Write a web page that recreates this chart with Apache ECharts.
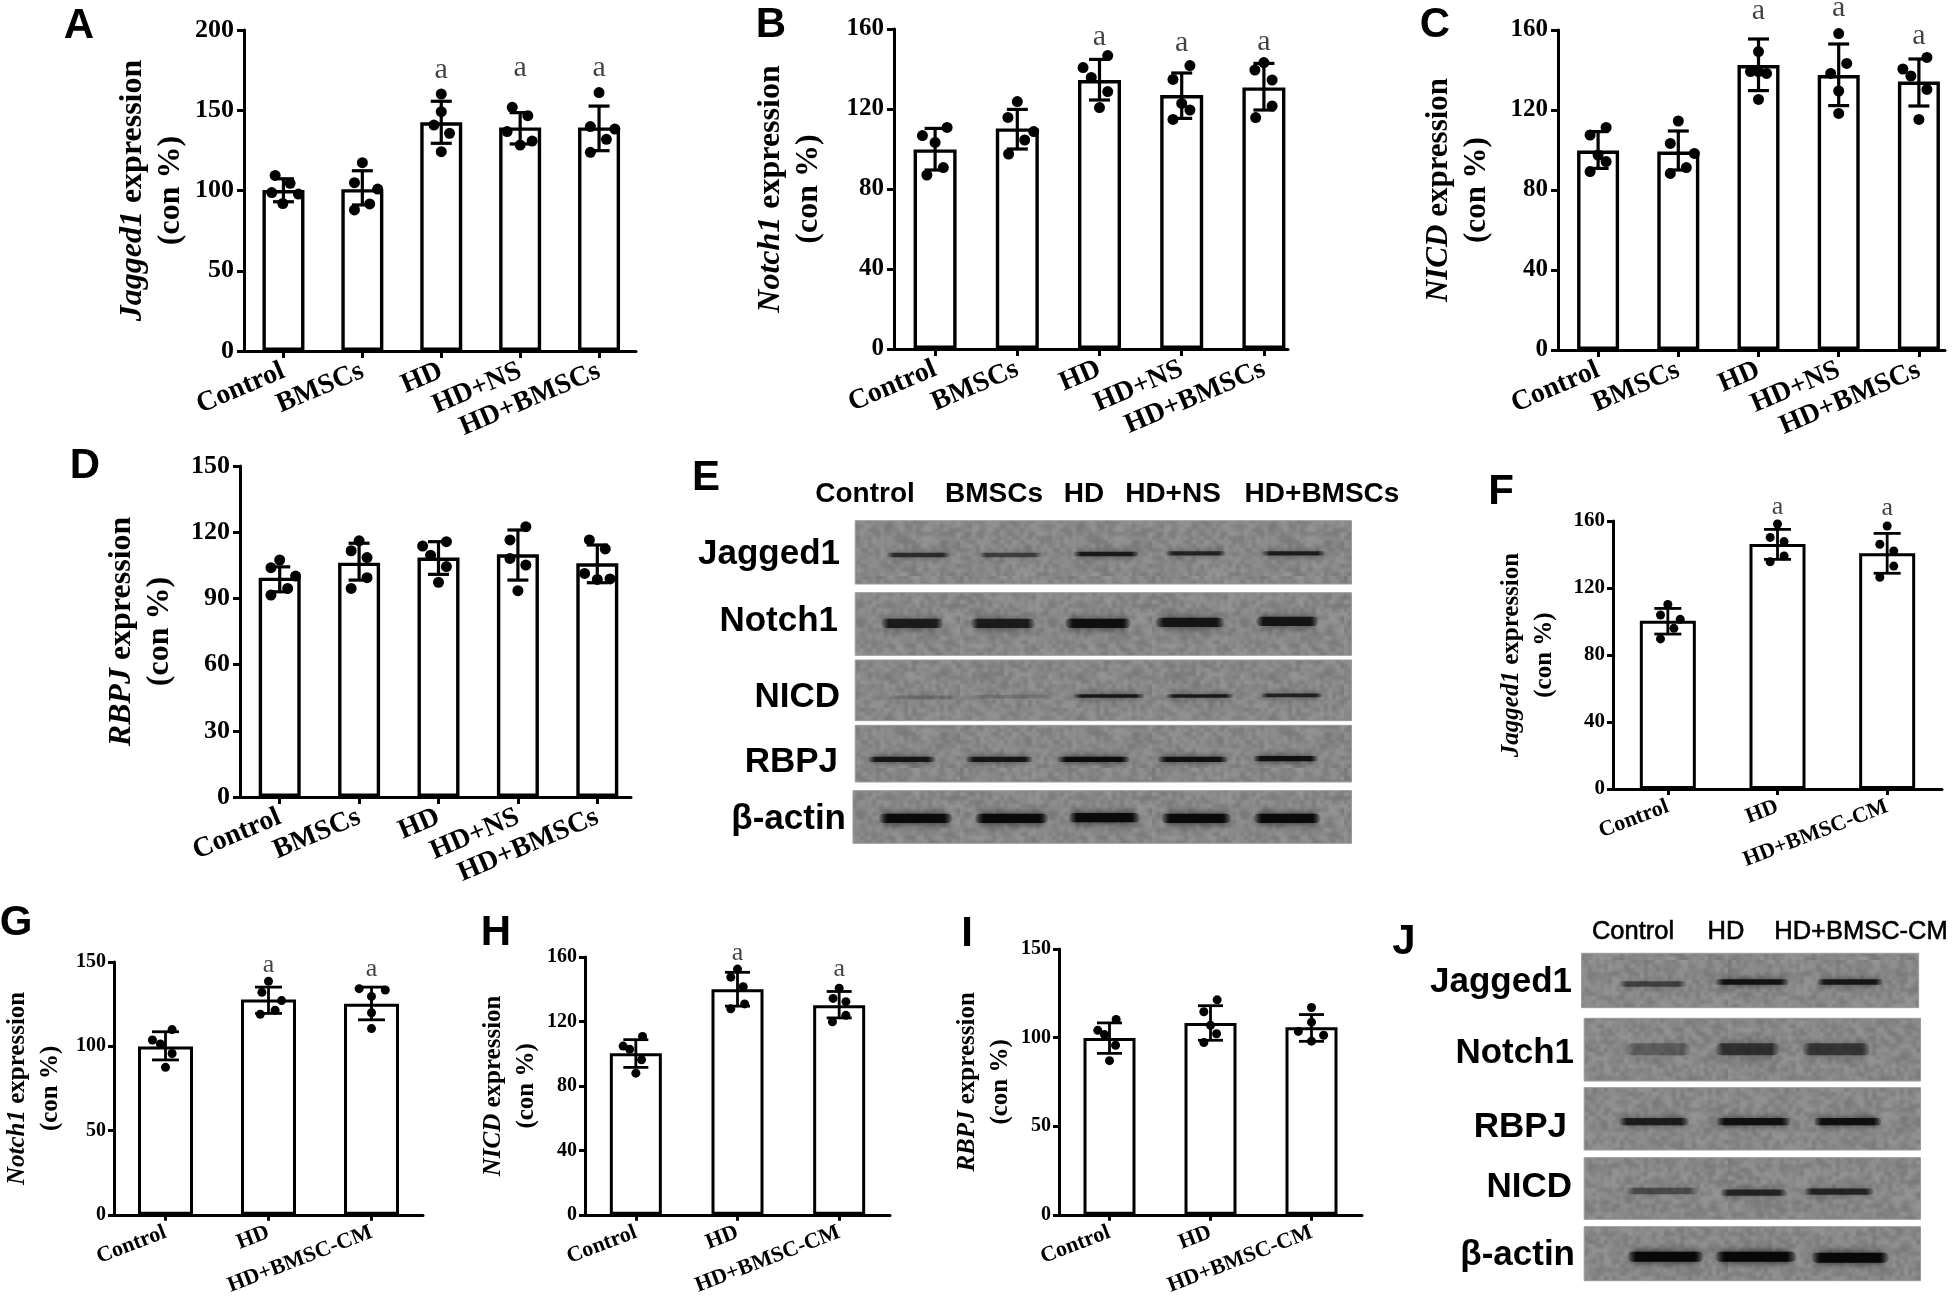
<!DOCTYPE html>
<html><head><meta charset="utf-8">
<style>html,body{margin:0;padding:0;background:#fff}#c{width:1960px;height:1298px;filter:blur(0.7px)}</style>
<script src="https://cdn.jsdelivr.net/npm/echarts@6/dist/echarts.min.js"></script>
</head><body><div id="c"></div>
<script>
const catsFive=['Control','BMSCs','HD','HD+NS','HD+BMSCs'];
const catsThree=['Control','HD','HD+BMSC-CM'];

const meansA=[100.3,100.8,142.5,139.3,139.3];
const upperA=[107.3,112.3,155.6,148.5,152.6];
const lowerA=[93,91,129.4,129,124.8];
const signifA=[null,null,175,176,176];
const dotsA=[[[-.105,109.4],[.084,104.5],[.19,97.8],[-.148,98.7],[-.008,91.9]],[[0,117.3],[-.1,104.9],[.194,100.9],[.093,91.6],[-.1,87.9]],[[0,160.1],[0,149.1],[-.093,140.8],[.105,135.6],[0,124.2]],[[-.1,151.8],[.097,146.6],[-.165,136.7],[.152,130.8],[0,128.3]],[[0,161],[-.11,139.8],[.2,138.3],[.093,131.9],[-.11,123.8]]];

const meansB=[99.8,110.3,134.5,127,130.8];
const upperB=[110.3,119.8,144.8,138,142.8];
const lowerB=[89.5,100,124.5,115.3,119.5];
const signifB=[null,null,156,153,153.5];
const dotsB=[[[.146,110.8],[-.154,106.7],[0,103.3],[.1,90.7],[-.1,87]],[[0,123.7],[-.114,115.8],[.2,108.7],[.09,104.5],[-.106,97.5]],[[.1,146.7],[-.2,140.7],[-.1,135.8],[.1,128.7],[0,120.7]],[[.1,141.7],[-.106,134.8],[0,122.8],[.1,119.5],[-.106,114.8]],[[0,143.2],[-.11,139.5],[.1,134.5],[.1,121.5],[-.1,115.7]]];

const meansC=[99.7,99.2,142.5,137.5,134.2];
const upperC=[109.2,109.5,155.5,153,145.5];
const lowerC=[90.8,90,129.7,122.2,122];
const signifC=[null,null,169.5,171,157];
const dotsC=[[[.1,111.3],[-.1,107.5],[0,97.5],[.1,94.2],[-.1,89.2]],[[0,114.5],[-.1,103.3],[.2,98.3],[.1,91.2],[-.1,88.3]],[[0,149.2],[-.1,139.2],[0,139.2],[.1,138.3],[0,125.3]],[[0,158.2],[.1,143.3],[-.1,138.3],[0,129.5],[0,118.3]],[[.1,146.3],[-.2,140.5],[-.1,137],[.1,130.3],[0,115.3]]];

const meansD=[99.4,106.2,108.5,110,105.9];
const upperD=[104.3,115,115.7,121,114.2];
const lowerD=[93,98.3,100.9,98.3,97.1];
const dotsD=[[[0,107.4],[-.11,103.9],[.2,100.1],[.1,94.5],[-.11,91.5]],[[0,116.1],[-.1,111.6],[.1,108.5],[.1,99.4],[-.1,94.5]],[[.1,115.7],[-.2,113.7],[-.1,109.6],[.1,104.4],[0,97.3]],[[.1,122.5],[-.1,116.5],[-.1,108.1],[.1,105.1],[0,93.5]],[[-.1,116.5],[.1,112.4],[-.16,101.3],[.16,98.8],[0,98.6]]];

const meansF=[100.5,146.3,140.7];
const upperF=[107.8,155,152.6];
const lowerF=[92.5,137.1,128.8];
const signifF=[null,168.4,167.8];
const dotsF=[[[0,110.2],[-.067,103.9],[.113,101.3],[.055,95.9],[-.067,89.6]],[[0,158.2],[-.067,150.2],[.06,147.7],[.06,139.1],[-.067,135.7]],[[0,157],[-.067,146.1],[.06,142.1],[.06,133.1],[-.067,126.4]]];

const meansG=[99.9,127.7,125.2];
const upperG=[108.6,135.1,135.1];
const lowerG=[91.9,119.5,115.7];
const signifG=[null,148,146];
const dotsG=[[[.064,109.9],[-.127,103.7],[-.05,101.4],[.064,95.7],[0,87.5]],[[0,138.6],[-.064,132],[.127,127.1],[.064,121.4],[-.08,119]],[[-.12,134.2],[.134,133.4],[0,129.6],[0,119.9],[0,110.5]]];

const meansH=[100.2,140,130];
const upperH=[108.7,150.5,138.6];
const lowerH=[91.5,129.5,122.2];
const signifH=[null,162.6,152.5];
const dotsH=[[[.066,110.7],[-.125,104.7],[-.06,102.7],[.056,96.2],[0,87.9]],[[0,152.5],[-.066,147.5],[.056,141.6],[.07,130.9],[-.066,127.9]],[[0,140.6],[-.06,134.3],[.066,132.3],[.066,123.8],[-.066,119.8]]];

const meansI=[99.8,108.3,105.9];
const upperI=[108.3,118,113];
const lowerI=[91.1,98.5,97.9];
const dotsI=[[[.066,110.2],[-.116,104.1],[-.05,101.7],[.06,95.7],[0,87]],[[.066,121.3],[-.066,114.6],[0,106.9],[.06,102.2],[-.066,97.2]],[[0,117],[0,108.7],[-.13,103.5],[.12,101.3],[0,98]]];

const rowsE=['Jagged1','Notch1','NICD','RBPJ','β-actin'];
const lanesE=['Control','BMSCs','HD','HD+NS','HD+BMSCs'];
const rowsJ=['Jagged1','Notch1','RBPJ','NICD','β-actin'];
const lanesJ=['Control','HD','HD+BMSC-CM'];
// band strength per row and lane, read by eye from the blots (0-1)
const strengthE=[[.68,.55,.82,.75,.8],[.78,.78,.9,.85,.85],[.2,.18,.86,.84,.76],[.85,.85,.95,.9,.9],[.97,.97,.97,.97,.97]];
const strengthJ=[[.52,.88,.84],[.32,.62,.58],[.78,.9,.9],[.45,.72,.72],[1,1,1]];

const serif='"Liberation Serif"', sans='"Liberation Sans"';
const panels=[
 {cats:catsFive,m:meansA,u:upperA,l:lowerA,s:signifA,d:dotsA,gene:'Jagged1',max:200,step:50,left:244,right:1960-638.5,top:30,bottom:1298-351,bw:42,cap:21,dot:11,lw:3.4,fs:26,xfs:28,rot:23,nfs:32,gap:54,lh:38,axisEnd:392,afs:30,tick:7,ym:10,xm:19},
 {cats:catsFive,m:meansB,u:upperB,l:lowerB,s:signifB,d:dotsB,gene:'Notch1',max:160,step:40,left:894,right:1960-1305,top:29,bottom:1298-349,bw:43,cap:21,dot:11,lw:3.4,fs:25,xfs:28,rot:23,nfs:32,gap:66,lh:38,axisEnd:394,afs:30,tick:7,ym:10,xm:19},
 {cats:catsFive,m:meansC,u:upperC,l:lowerC,s:signifC,d:dotsC,gene:'NICD',max:160,step:40,left:1558,right:1,top:30,bottom:1298-350,bw:42,cap:21,dot:11,lw:3.4,fs:25,xfs:28,rot:23,nfs:31,gap:62,lh:38,axisEnd:387,afs:30,tick:7,ym:10,xm:19},
 {cats:catsFive,m:meansD,u:upperD,l:lowerD,s:null,d:dotsD,gene:'RBPJ',max:150,step:30,left:240,right:1960-637,top:466,bottom:1298-797,bw:42,cap:21,dot:11,lw:3.4,fs:26,xfs:28,rot:23,nfs:32,gap:61,lh:38,axisEnd:391,afs:30,tick:7,ym:10,xm:19},
 {cats:catsThree,m:meansF,u:upperF,l:lowerF,s:signifF,d:dotsF,gene:'Jagged1',max:160,step:40,left:1613,right:1960-1942,top:521,bottom:1298-789,bw:56,cap:27,dot:9,lw:3,fs:21,xfs:22,rot:21,nfs:25,gap:52,lh:33,axisEnd:330,afs:26,tick:6,ym:8,xm:17},
 {cats:catsThree,m:meansG,u:upperG,l:lowerG,s:signifG,d:dotsG,gene:'Notch1',max:150,step:50,left:107,right:1960-423,top:962,bottom:1298-1224,bw:55,cap:27,dot:9,lw:3,fs:20,xfs:22,rot:21,nfs:25,gap:47,lh:33,axisEnd:316,afs:26,tick:6,ym:8,xm:17},
 {cats:catsThree,m:meansH,u:upperH,l:lowerH,s:signifH,d:dotsH,gene:'NICD',max:160,step:40,left:585,right:1960-890,top:957,bottom:1298-1221,bw:52,cap:25,dot:9,lw:3,fs:20,xfs:22,rot:21,nfs:25,gap:42,lh:33,axisEnd:305,afs:26,tick:6,ym:8,xm:17},
 {cats:catsThree,m:meansI,u:upperI,l:lowerI,s:null,d:dotsI,gene:'RBPJ',max:150,step:50,left:1059,right:1960-1362,top:949,bottom:1298-1219,bw:52,cap:25,dot:9,lw:3,fs:20,xfs:22,rot:21,nfs:25,gap:40,lh:33,axisEnd:303,afs:26,tick:6,ym:8,xm:17}
];

const letters=[['A',79,26],['B',771,25],['C',1435,25],['D',85,466],['E',706,478],['F',1501,492],['G',16,923],['H',496,933],['I',967,934],['J',1404,942]];

const grids=[],xAxes=[],yAxes=[],series=[];
panels.forEach(p=>{
  const g=grids.length, n=p.cats.length;
  grids.push({left:p.left,right:p.right,top:p.top,bottom:p.bottom,containLabel:false});
  const catAx=xAxes.length;
  xAxes.push({type:'category',gridIndex:g,data:p.cats,
    axisLine:{show:true,onZero:false,lineStyle:{color:'#000',width:3,type:[p.axisEnd,3000]}},
    axisTick:{show:true,alignWithLabel:true,length:p.tick,lineStyle:{color:'#000',width:3}},
    axisLabel:{interval:0,rotate:p.rot,margin:p.xm,color:'#000',fontFamily:serif,fontWeight:'bold',fontSize:p.xfs}});
  const valAx=xAxes.length;
  xAxes.push({type:'value',gridIndex:g,min:-0.5,max:n-0.5,show:false});
  const yAx=yAxes.length;
  yAxes.push({type:'value',gridIndex:g,min:0,max:p.max,interval:p.step,splitLine:{show:false},
    name:'{i|'+p.gene+'}{n| expression}\n{n|(con %)}',nameLocation:'middle',nameRotate:90,nameGap:p.gap,
    nameTextStyle:{color:'#000',lineHeight:p.lh,rich:{
      i:{fontFamily:serif,fontWeight:'bold',fontStyle:'italic',fontSize:p.nfs,lineHeight:p.lh,color:'#000'},
      n:{fontFamily:serif,fontWeight:'bold',fontSize:p.nfs,lineHeight:p.lh,color:'#000'}}},
    axisLine:{show:true,onZero:false,lineStyle:{color:'#000',width:3}},
    axisTick:{show:true,length:p.tick,lineStyle:{color:'#000',width:3}},
    axisLabel:{margin:p.ym,color:'#000',fontFamily:serif,fontWeight:'bold',fontSize:p.fs}});
  series.push({type:'bar',xAxisIndex:catAx,yAxisIndex:yAx,data:p.m,barWidth:p.bw,z:2,silent:true,
    itemStyle:{color:'#fff',borderColor:'#000',borderWidth:p.lw}});
  series.push({type:'custom',xAxisIndex:catAx,yAxisIndex:yAx,z:3,silent:true,clip:false,
    data:p.m.map((_,i)=>[i,p.l[i],p.u[i]]),encode:{x:0,y:[1,2]},
    renderItem:(ctx,api)=>{
      const a=api.coord([api.value(0),api.value(1)]),b=api.coord([api.value(0),api.value(2)]);
      const st={stroke:'#000',lineWidth:p.lw-.2,fill:null};
      const ln=(x1,y1,x2,y2)=>({type:'line',shape:{x1,y1,x2,y2},style:st});
      return {type:'group',children:[ln(a[0],a[1],b[0],b[1]),ln(a[0]-p.cap/2,a[1],a[0]+p.cap/2,a[1]),ln(b[0]-p.cap/2,b[1],b[0]+p.cap/2,b[1])]};
    }});
  const pts=[];p.d.forEach((row,i)=>row.forEach(d=>pts.push([i+d[0],d[1]])));
  series.push({type:'scatter',xAxisIndex:valAx,yAxisIndex:yAx,data:pts,symbolSize:p.dot,z:4,silent:true,clip:false,
    itemStyle:{color:'#000',opacity:1}});
  if(p.s){
    series.push({type:'scatter',xAxisIndex:catAx,yAxisIndex:yAx,clip:false,z:5,silent:true,symbolSize:1,
      itemStyle:{color:'transparent'},
      data:p.s.map((v,i)=>v==null?null:[i,v]).filter(Boolean),
      label:{show:true,position:'inside',formatter:'a',color:'#111',fontFamily:serif,fontSize:p.afs}});
  }
});

// gel texture tile: a small deterministic mottled pattern
function makeTile(){
  const s=48,src=document.createElement('canvas');src.width=src.height=s;
  const sc=src.getContext('2d');
  for(let y=0;y<s;y++)for(let x=0;x<s;x++){
    const h=Math.sin(x*12.9898+y*78.233)*43758.5453;
    const f=h-Math.floor(h);
    const v=Math.round(120+f*30);
    sc.fillStyle='rgb('+v+','+v+','+v+')';sc.fillRect(x,y,1,1);
  }
  const c=document.createElement('canvas');c.width=c.height=s*4;
  const cx=c.getContext('2d');cx.imageSmoothingEnabled=true;cx.drawImage(src,0,0,s*4,s*4);
  return c;
}
const tile=makeTile();

const blots=[
 {left:853,right:1960-1351.5,top:520.7,bottom:1298-843.3,xr:[387,1504],yr:[272,1240],
  strips:[[392,1504,272,462],[392,1504,488,676],[392,1504,690,872],[392,1504,886,1056],[387,1504,1082,1240]],
  bands:[[[462,605,375],[670,810,375],[880,1028,372],[1088,1222,370],[1303,1445,370]],
         [[450,590,580],[650,795,580],[862,1010,580],[1065,1220,577],[1290,1430,574]],
         [[470,625,802],[655,828,800],[880,1040,798],[1088,1240,798],[1300,1440,796]],
         [[420,573,988],[640,790,988],[845,1008,988],[1070,1228,988],[1283,1430,986]],
         [[445,610,1165],[660,825,1165],[870,1030,1163],[1078,1235,1165],[1285,1435,1165]]],
  thick:[13,28,11,16,28],strength:strengthE},
 {left:1581.6,right:1960-1920.5,top:953.3,bottom:1298-1280.7,xr:[545,1460],yr:[190,1172],
  strips:[[545,1455,190,353],[552,1460,385,573],[552,1460,593,780],[552,1460,803,988],[552,1460,1010,1172]],
  bands:[[[645,830,282],[905,1105,276],[1180,1360,276]],
         [[665,840,478],[905,1080,478],[1140,1325,478]],
         [[645,835,695],[908,1110,695],[1172,1355,695]],
         [[665,860,903],[920,1100,908],[1145,1335,905]],
         [[668,875,1100],[905,1125,1100],[1165,1375,1103]]],
  thick:[17,36,22,19,30],strength:strengthJ}
];
blots.forEach(b=>{
  const g=grids.length;grids.push({left:b.left,right:b.right,top:b.top,bottom:b.bottom});
  const xi=xAxes.length;xAxes.push({type:'value',gridIndex:g,min:b.xr[0],max:b.xr[1],show:false});
  const yi=yAxes.length;yAxes.push({type:'value',gridIndex:g,min:b.yr[0],max:b.yr[1],inverse:true,show:false});
  series.push({type:'custom',xAxisIndex:xi,yAxisIndex:yi,z:1,silent:true,clip:false,data:b.strips,
    encode:{x:[0,1],y:[2,3]},
    renderItem:(ctx,api)=>{
      const a=api.coord([api.value(0),api.value(2)]),c=api.coord([api.value(1),api.value(3)]);
      return {type:'rect',shape:{x:a[0],y:a[1],width:c[0]-a[0],height:c[1]-a[1]},
        style:{fill:{image:tile,repeat:'repeat'},stroke:'#9a9a9a',lineWidth:1}};
    }});
  const data=[];
  b.bands.forEach((row,r)=>row.forEach((bd,i)=>data.push([bd[0],bd[1],bd[2],b.thick[r],b.strength[r][i]])));
  series.push({type:'custom',xAxisIndex:xi,yAxisIndex:yi,z:2,silent:true,clip:false,data,
    encode:{x:[0,1],y:2},
    renderItem:(ctx,api)=>{
      const a=api.coord([api.value(0),api.value(2)-api.value(3)/2]),c=api.coord([api.value(1),api.value(2)+api.value(3)/2]);
      const s=api.value(4),h=c[1]-a[1];
      const col=al=>'rgba(8,8,8,'+al+')';
      return {type:'rect',shape:{x:a[0],y:a[1],width:c[0]-a[0],height:h,r:h/2},
        style:{fill:{type:'linear',x:0,y:0,x2:1,y2:0,colorStops:[{offset:0,color:col(s*.1)},{offset:.12,color:col(s)},{offset:.88,color:col(s)},{offset:1,color:col(s*.1)}]},
          shadowBlur:Math.max(7,h*.9),shadowColor:col(s*.8)}};
    }});
});

const text=(t,x,y,font,align,sw)=>({type:'text',z:20,silent:true,style:{text:t,x,y,font,fill:'#000',stroke:sw?'#000':null,lineWidth:sw||0,textAlign:align||'center',textVerticalAlign:'middle'}});
const graphics=[];
letters.forEach(l=>graphics.push(text(l[0],l[1],l[2],'bold 42px "Liberation Sans"')));
const fE='bold 35px "Liberation Sans"';
[[840,554],[838,621],[840,697],[838,762],[846,819]].forEach((q,i)=>graphics.push(text(rowsE[i],q[0],q[1],fE,'right')));
[865,994,1084,1173,1322].forEach((x,i)=>graphics.push(text(lanesE[i],x,494,'bold 28px "Liberation Sans"')));
[[1572,982],[1574,1053],[1567,1127],[1572,1187],[1575,1255]].forEach((q,i)=>graphics.push(text(rowsJ[i],q[0],q[1],fE,'right')));
[1633,1726,1861].forEach((x,i)=>graphics.push(text(lanesJ[i],x,932,'25.5px "Liberation Sans"','center',.6)));

const chart=echarts.init(document.getElementById('c'),null,{width:1960,height:1298});
chart.setOption({animation:false,backgroundColor:'#fff',grid:grids,xAxis:xAxes,yAxis:yAxes,series,graphic:{elements:graphics}});
</script></body></html>
